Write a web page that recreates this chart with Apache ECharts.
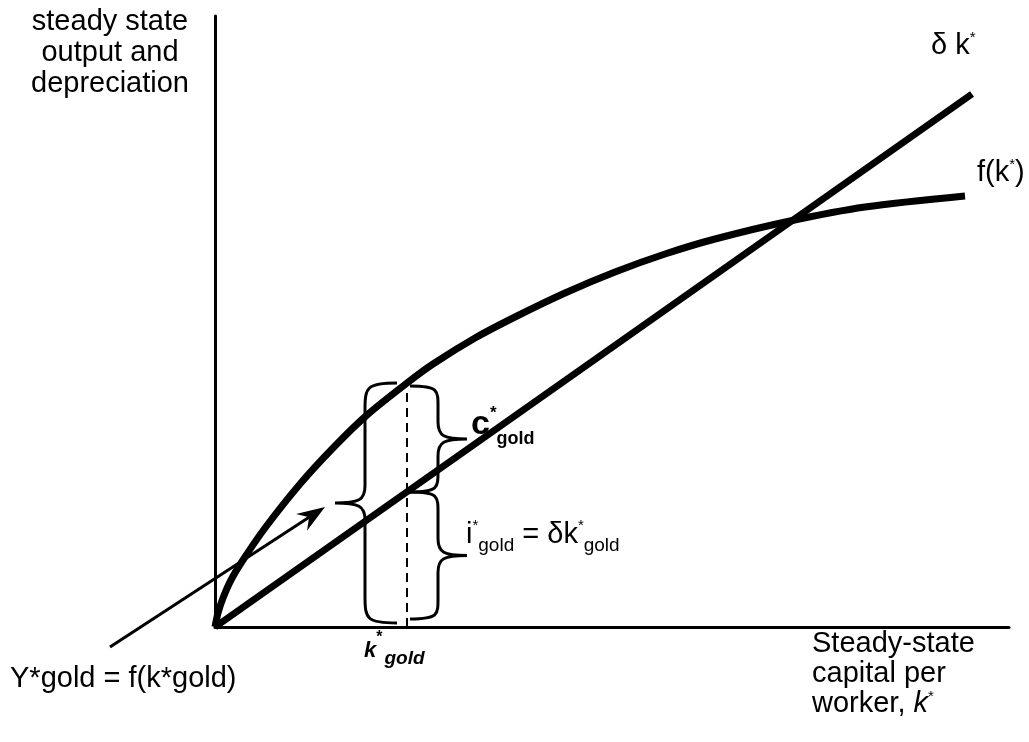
<!DOCTYPE html>
<html><head><meta charset="utf-8">
<script src="https://cdn.jsdelivr.net/npm/echarts@6/dist/echarts.min.js"></script>
<style>html,body{margin:0;padding:0;background:#fff}#c{width:1029px;height:742px}</style>
</head><body><div id="c"></div>
<script>
// ---- data ----
const kValues = [0, 3, 8, 16, 28, 50, 85, 118, 152, 192, 218, 260, 300, 350, 400, 450, 500, 575, 650, 750];
const fValues = [0, 14, 29, 47, 67, 99, 143, 179, 212, 244, 263, 289, 310, 334, 355, 373, 388, 406, 420, 431];
const dkK = [0, 757];
const dkValues = [0, 533];
const kGold = 192;
const yGold = 244;   // f(k*gold)
const iGold = 135;   // delta k*gold
const xMax = 794, yMax = 611;

const FONT = "'Liberation Sans', Arial, sans-serif";
const chart = echarts.init(document.getElementById('c'), null, {renderer: 'canvas'});

const fData = kValues.map((k, i) => [k, fValues[i]]);
const dkData = dkK.map((k, i) => [k, dkValues[i]]);

function bracePath(xe, xs, xt, y1, y2) {
  const ym = (y1 + y2) / 2, r = 26, r2 = 17;
  return `M${xe},${y1} C${xs+2},${y1} ${xs},${y1+4} ${xs},${y1+r} ` +
         `L${xs},${ym-r2} C${xs},${ym-3} ${xs+(xt-xs)*0.2},${ym} ${xt},${ym} ` +
         `C${xs+(xt-xs)*0.2},${ym} ${xs},${ym+3} ${xs},${ym+r2} ` +
         `L${xs},${y2-r} C${xs},${y2-4} ${xs+2},${y2} ${xe},${y2}`;
}

const braceData = [[kGold, 0, yGold, -1], [kGold, iGold, yGold, 1], [kGold, 0, iGold, 1]];

function renderBrace(params, api) {
  const x = api.value(0), lo = api.value(1), hi = api.value(2), side = api.value(3);
  const pTop = api.coord([x, hi]), pBot = api.coord([x, lo]);
  const xd = pTop[0];
  let y1 = pTop[1], y2 = pBot[1];
  if (lo === 0) y2 -= 4;
  if (side > 0 && lo > 0) y1 += 3;
  if (side > 0 && hi < yGold) y2 -= 4;
  let xe, xs, xt;
  if (side < 0) { xe = xd - 10; xs = xd - 42; xt = xd - 72; }
  else { xe = xd + 3; xs = xd + 31; xt = xd + 60; }
  const children = [{
    type: 'path', shape: {pathData: bracePath(xe, xs, xt, y1, y2)},
    style: {stroke: '#000', lineWidth: 3, fill: null}
  }];
  if (side < 0) {
    // arrow pointing at the tip of the left brace
    const ym = (y1 + y2) / 2;
    const T = [xt - 10, ym + 4];
    const S = [T[0] - 215, T[1] + 140];
    const L = Math.hypot(T[0] - S[0], T[1] - S[1]);
    const u = [(T[0] - S[0]) / L, (T[1] - S[1]) / L];
    const n = [-u[1], u[0]];
    const B = [T[0] - 28 * u[0], T[1] - 28 * u[1]];
    const N = [T[0] - 19 * u[0], T[1] - 19 * u[1]];
    children.push({type: 'line', shape: {x1: S[0], y1: S[1], x2: N[0], y2: N[1]},
      style: {stroke: '#000', lineWidth: 3}});
    children.push({type: 'polygon', shape: {points: [T,
      [B[0] + 10 * n[0], B[1] + 10 * n[1]], N, [B[0] - 10 * n[0], B[1] - 10 * n[1]]]},
      style: {fill: '#000'}});
  }
  return {type: 'group', children};
}

const txt = (x, y, text, extra) => ({
  type: 'text', x, y, silent: true,
  style: Object.assign({text, fill: '#000', fontFamily: FONT, fontSize: 29,
    align: 'left', textAlign: 'left', verticalAlign: 'top', textVerticalAlign: 'top'}, extra || {})
});

const option = {
  backgroundColor: '#fff',
  animation: false,
  grid: {left: 215, right: 20, top: 16, bottom: 115},
  xAxis: {type: 'value', min: 0, max: xMax,
    axisLine: {show: true, onZero: false, lineStyle: {color: '#000', width: 3}},
    axisTick: {show: false}, axisLabel: {show: false}, splitLine: {show: false}},
  yAxis: {type: 'value', min: 0, max: yMax,
    axisLine: {show: true, onZero: false, lineStyle: {color: '#000', width: 3}},
    axisTick: {show: false}, axisLabel: {show: false}, splitLine: {show: false}},
  series: [
    {type: 'line', data: fData, smooth: 0.3, showSymbol: false, clip: false,
      lineStyle: {color: '#000', width: 7, cap: 'butt', join: 'round'}},
    {type: 'line', data: dkData, showSymbol: false, clip: false,
      lineStyle: {color: '#000', width: 7, cap: 'butt'}},
    {type: 'line', data: [[kGold, 0], [kGold, yGold]], showSymbol: false,
      lineStyle: {color: '#000', width: 2, type: [9, 6]}},
    {type: 'custom', data: braceData, renderItem: renderBrace, clip: false, silent: true}
  ],
  graphic: [
    txt(110, 6, 'steady state\noutput and\ndepreciation', {align: 'center', textAlign: 'center', lineHeight: 31}),
    txt(931, 30, '{m|δ k}{sup|*}', {rich: {
      m: {fontFamily: FONT, fontSize: 29, lineHeight: 32, verticalAlign: 'middle'},
      sup: {fontFamily: FONT, fontSize: 15, lineHeight: 15, verticalAlign: 'top'}}}),
    txt(977, 157, '{m|f(k}{sup|*}{m|)}', {rich: {
      m: {fontFamily: FONT, fontSize: 29, lineHeight: 32, verticalAlign: 'middle'},
      sup: {fontFamily: FONT, fontSize: 15, lineHeight: 15, verticalAlign: 'top'}}}),
    txt(471, 405, '{c|c}{sup|*}{sub|gold}', {rich: {
      c: {fontFamily: FONT, fontSize: 34, fontWeight: 'bold', lineHeight: 40, verticalAlign: 'middle'},
      sup: {fontFamily: FONT, fontSize: 17, fontWeight: 'bold', lineHeight: 17, verticalAlign: 'top'},
      sub: {fontFamily: FONT, fontSize: 18, fontWeight: 'bold', lineHeight: 18, verticalAlign: 'bottom', padding: [0, 0, -3, 0]}}}),
    txt(466, 518, '{m|i}{sup|*}{sub|gold}{m| = δk}{sup|*}{sub|gold}', {rich: {
      m: {fontFamily: FONT, fontSize: 29, lineHeight: 34, verticalAlign: 'middle'},
      sup: {fontFamily: FONT, fontSize: 15, lineHeight: 15, verticalAlign: 'top'},
      sub: {fontFamily: FONT, fontSize: 19, lineHeight: 19, verticalAlign: 'bottom', padding: [0, 0, -3, 0]}}}),
    txt(364, 636, '{k|k}{sup|*}{sub|gold}', {rich: {
      k: {fontFamily: FONT, fontSize: 22, fontWeight: 'bold', fontStyle: 'italic', lineHeight: 30, verticalAlign: 'middle'},
      sup: {fontFamily: FONT, fontSize: 16, fontWeight: 'bold', lineHeight: 16, verticalAlign: 'top', padding: [-6, 2, 0, 0]},
      sub: {fontFamily: FONT, fontSize: 19, fontWeight: 'bold', fontStyle: 'italic', lineHeight: 19, verticalAlign: 'bottom', padding: [0, 0, -2, 0]}}}),
    txt(10, 663, 'Y*gold = f(k*gold)', {lineHeight: 32}),
    txt(812, 629, '{m|Steady-state}\n{m|capital per}\n{m|worker, }{k|k}{sup|*}', {rich: {
      m: {fontFamily: FONT, fontSize: 29, lineHeight: 30, verticalAlign: 'middle'},
      k: {fontFamily: FONT, fontSize: 29, fontStyle: 'italic', lineHeight: 30, verticalAlign: 'middle'},
      sup: {fontFamily: FONT, fontSize: 15, lineHeight: 15, verticalAlign: 'top'}}})
  ]
};
chart.setOption(option);
</script></body></html>
